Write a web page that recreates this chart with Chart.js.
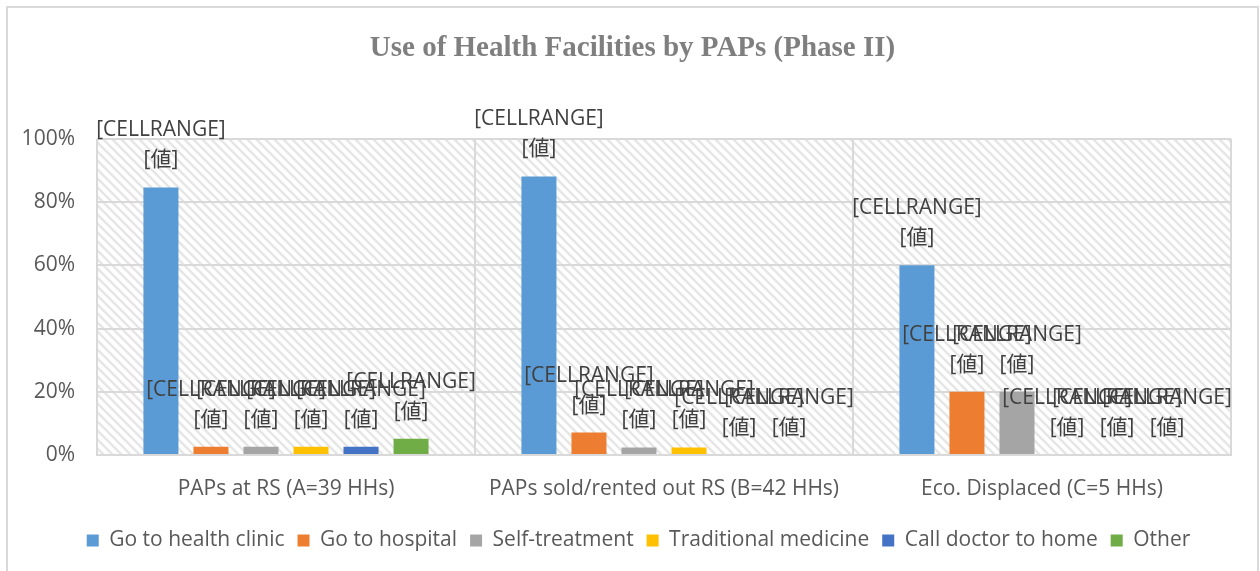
<!DOCTYPE html>
<html>
<head>
<meta charset="utf-8">
<script src="https://cdn.jsdelivr.net/npm/chart.js@4.4.0/dist/chart.umd.min.js"></script>
<style>
  html, body { margin: 0; padding: 0; background: #fff; }
  #wrap { width: 1260px; height: 571px; }
</style>
</head>
<body>
<div id="wrap"><canvas id="healthChart" width="1260" height="571"></canvas></div>
<script>
// values (% of households)
const categories = ["PAPs at RS (A=39 HHs)", "PAPs sold/rented out RS (B=42 HHs)", "Eco. Displaced (C=5 HHs)"];
const healthClinic = [84.6, 88.1, 60];
const hospital = [2.6, 7.1, 20];
const selfTreatment = [2.6, 2.4, 20];
const traditional = [2.6, 2.4, 0];
const callDoctor = [2.6, 0, 0];
const other = [5.1, 0, 0];
const yTicks = [0, 20, 40, 60, 80, 100];

const seriesNames = ["Go to health clinic", "Go to hospital", "Self-treatment", "Traditional medicine", "Call doctor to home", "Other"];
const seriesData = [healthClinic, hospital, selfTreatment, traditional, callDoctor, other];
const seriesColors = ["#5b9bd5", "#ed7d31", "#a5a5a5", "#ffc000", "#4472c4", "#70ad47"];

const textFont = '"Open Sans", "Noto Sans CJK JP", sans-serif';

function makeHatch(ctx) {
    const c = document.createElement("canvas");
    c.width = 9; c.height = 9;
    const g = c.getContext("2d");
    g.fillStyle = "#ffffff";
    g.fillRect(0, 0, 9, 9);
    g.strokeStyle = "#e6e6e6";
    g.lineWidth = 2.5;
    g.beginPath();
    g.moveTo(-2, -2); g.lineTo(11, 11);
    g.moveTo(-2, 7); g.lineTo(2, 11);
    g.moveTo(7, -2); g.lineTo(11, 2);
    g.stroke();
    return ctx.createPattern(c, "repeat");
}

const hatchBackground = {
    id: "hatchBackground",
    afterLayout(chart) {
        // legend and title sit a bit right of the canvas centre in the original
        if (chart.legend) {
            chart.legend.left += 18;
            chart.legend.right += 18;
        }
        if (chart.titleBlock) {
            chart.titleBlock.left += 12;
            chart.titleBlock.right += 12;
        }
    },
    beforeDraw(chart) {
        const { ctx, chartArea: a } = chart;
        ctx.save();
        ctx.fillStyle = makeHatch(ctx);
        ctx.fillRect(a.left, a.top, a.right - a.left, a.bottom - a.top);
        ctx.restore();
    },
    afterDraw(chart) {
        const ctx = chart.ctx;
        ctx.save();
        ctx.strokeStyle = "#d9d9d9";
        ctx.lineWidth = 2;
        ctx.strokeRect(7, 7, 1251, 600);
        ctx.restore();
    }
};

const cellLabels = {
    id: "cellLabels",
    afterDatasetsDraw(chart) {
        const ctx = chart.ctx;
        ctx.save();
        ctx.font = "21px " + textFont;
        ctx.fillStyle = "#404040";
        ctx.textAlign = "center";
        ctx.textBaseline = "middle";
        chart.data.datasets.forEach((ds, i) => {
            chart.getDatasetMeta(i).data.forEach(bar => {
                ctx.fillText("[CELLRANGE]", bar.x, bar.y - 57);
                ctx.fillText("[値]", bar.x, bar.y - 27);
            });
        });
        ctx.restore();
    }
};

const ctx = document.getElementById("healthChart").getContext("2d");
new Chart(ctx, {
    type: "bar",
    data: {
        labels: categories,
        datasets: seriesNames.map((name, i) => ({
            label: name,
            data: seriesData[i],
            backgroundColor: seriesColors[i],
            categoryPercentage: 0.794,
            barPercentage: 0.7
        }))
    },
    options: {
        responsive: false,
        animation: false,
        devicePixelRatio: 1,
        layout: { padding: { left: 10, right: 29, top: 10, bottom: 10 } },
        plugins: {
            title: {
                display: true,
                text: "Use of Health Facilities by PAPs (Phase II)",
                color: "#7f7f7f",
                font: { family: '"Liberation Serif", "Times New Roman", serif', size: 29, weight: "bold" },
                padding: { top: 21, bottom: 73 }
            },
            legend: {
                position: "bottom",
                labels: {
                    boxWidth: 12,
                    boxHeight: 12,
                    padding: 13,
                    color: "#595959",
                    font: { family: textFont, size: 21 }
                }
            },
            tooltip: { enabled: false }
        },
        scales: {
            x: {
                afterFit(scale) { scale.height = 62; },
                grid: { offset: true, color: "#d9d9d9", lineWidth: 2, drawTicks: false },
                border: { color: "#d9d9d9", width: 2 },
                ticks: {
                    color: "#595959",
                    padding: 21,
                    font: { family: textFont, size: 21 }
                }
            },
            y: {
                min: 0,
                max: 100,
                afterFit(scale) { scale.width = 87; },
                afterBuildTicks(scale) { scale.ticks = yTicks.map(v => ({ value: v })); },
                grid: { color: "#d9d9d9", lineWidth: 2, drawTicks: false },
                border: { display: false },
                ticks: {
                    color: "#595959",
                    padding: 22,
                    font: { family: textFont, size: 21 },
                    callback: v => v + "%"
                }
            }
        }
    },
    plugins: [hatchBackground, cellLabels]
});
</script>
</body>
</html>
